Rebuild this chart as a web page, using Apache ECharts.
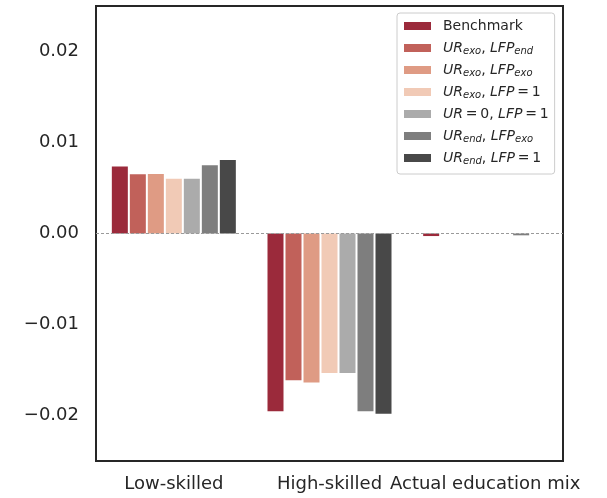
<!DOCTYPE html>
<html>
<head>
<meta charset="utf-8">
<script src="https://cdn.jsdelivr.net/npm/echarts@6/dist/echarts.min.js"></script>
<style>html,body{margin:0;padding:0;background:#fff}#c{width:607px;height:498px}</style>
</head>
<body>
<div id="c"></div>
<script>
var categories = ['Low-skilled', 'High-skilled', 'Actual education mix'];
var seriesNames = ['Benchmark', 'UR_exo, LFP_end', 'UR_exo, LFP_exo', 'UR_exo, LFP=1', 'UR=0, LFP=1', 'UR_end, LFP_exo', 'UR_end, LFP=1'];
var benchmark   = [0.00736, -0.01952, -0.00028];
var urExoLfpEnd = [0.00652, -0.01613, 0];
var urExoLfpExo = [0.00655, -0.01636, 0];
var urExoLfp1   = [0.00603, -0.01533, 0];
var ur0Lfp1     = [0.00603, -0.01533, 0];
var urEndLfpExo = [0.00751, -0.01952, -0.0002];
var urEndLfp1   = [0.00807, -0.01982, 0];
var yTicks = [-0.02, -0.01, 0, 0.01, 0.02];
var colors = ['#9b2a3b', '#c1615a', '#df9b84', '#f1cab6', '#ababab', '#7e7e7e', '#484848'];

var allValues = [benchmark, urExoLfpEnd, urExoLfpExo, urExoLfp1, ur0Lfp1, urEndLfpExo, urEndLfp1];

var eq = '\u2009=\u2009';
var legendRich = {
  'Benchmark': '{n|Benchmark}',
  'UR_exo, LFP_end': '{i|UR}{s|exo}{n|, }{i|LFP}{s|end}',
  'UR_exo, LFP_exo': '{i|UR}{s|exo}{n|, }{i|LFP}{s|exo}',
  'UR_exo, LFP=1': '{i|UR}{s|exo}{n|, }{i|LFP}{n|' + eq + '1}',
  'UR=0, LFP=1': '{i|UR}{n|' + eq + '0, }{i|LFP}{n|' + eq + '1}',
  'UR_end, LFP_exo': '{i|UR}{s|end}{n|, }{i|LFP}{s|exo}',
  'UR_end, LFP=1': '{i|UR}{s|end}{n|, }{i|LFP}{n|' + eq + '1}'
};

var font = 'DejaVu Sans';
var series = seriesNames.map(function (name, k) {
  var s = {
    name: name,
    type: 'bar',
    data: allValues[k],
    barWidth: 16,
    barGap: '12.5%',
    itemStyle: { color: colors[k] }
  };
  if (k === 0) {
    s.markLine = {
      silent: true,
      symbol: 'none',
      label: { show: false },
      lineStyle: { type: [3, 2], color: '#9a9a9a', width: 1 },
      data: [{ yAxis: 0 }],
      z: 5
    };
  }
  return s;
});

var chart = echarts.init(document.getElementById('c'), null, { renderer: 'canvas' });
chart.setOption({
  animation: false,
  color: colors,
  grid: {
    left: 96, top: 6, right: 44, bottom: 37,
    show: true, borderColor: '#262626', borderWidth: 2, backgroundColor: '#fff'
  },
  legend: {
    orient: 'vertical',
    left: 397, top: 13,
    padding: [5, 6, 8, 7],
    itemWidth: 27, itemHeight: 8, itemGap: 6,
    icon: 'rect',
    borderColor: '#cccccc', borderWidth: 1, borderRadius: 3,
    backgroundColor: 'rgba(255,255,255,0.8)',
    data: seriesNames,
    formatter: function (name) { return legendRich[name]; },
    textStyle: {
      fontFamily: font, fontSize: 14, color: '#262626', lineHeight: 16,
      padding: [0, 0, 0, 7],
      rich: {
        n: { fontFamily: font, fontSize: 14, color: '#262626', lineHeight: 16 },
        i: { fontFamily: font, fontSize: 14, fontStyle: 'italic', color: '#262626', lineHeight: 16 },
        s: { fontFamily: font, fontSize: 10, fontStyle: 'italic', color: '#262626', lineHeight: 10, verticalAlign: 'bottom', padding: [6, 0, 0, 0] }
      }
    }
  },
  xAxis: {
    type: 'category',
    data: categories,
    axisLine: { show: false },
    axisTick: { show: false },
    splitLine: { show: false },
    axisLabel: { fontFamily: font, fontSize: 18, color: '#262626', margin: 14, interval: 0 }
  },
  yAxis: {
    type: 'value',
    min: -0.025, max: 0.025,
    axisLine: { show: false },
    axisTick: { show: false },
    splitLine: { show: false },
    axisLabel: {
      customValues: yTicks,
      fontFamily: font, fontSize: 18, color: '#262626', margin: 17,
      formatter: function (v) { return v.toFixed(2).replace('-', '\u2212'); }
    }
  },
  series: series
});
</script>
</body>
</html>
